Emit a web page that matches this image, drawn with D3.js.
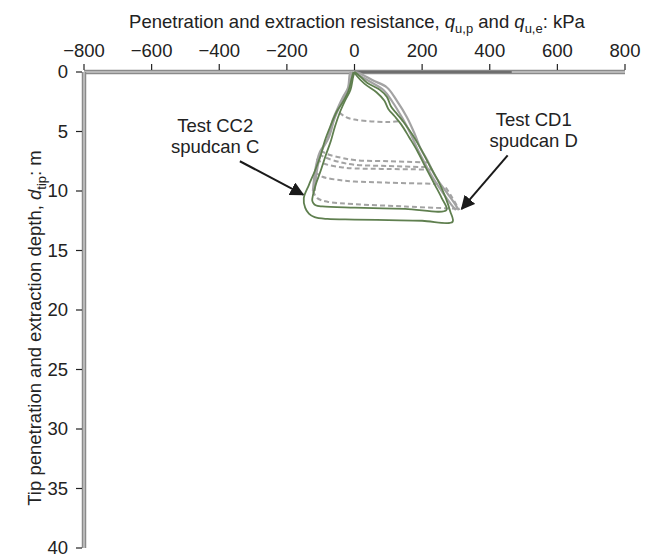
<!DOCTYPE html>
<html>
<head>
<meta charset="utf-8">
<script src="https://cdn.jsdelivr.net/npm/d3@7"></script>
<style>
  body { margin: 0; background: #fff; }
  text { font-family: "Liberation Sans", Arial, sans-serif; fill: #222; }
</style>
</head>
<body>
<div id="maViz"></div>
<script>
// ---- donnees (kPa, m) ----
const xTicks = [-800, -600, -400, -200, 0, 200, 400, 600, 800];
const yTicks = [0, 5, 10, 15, 20, 25, 30, 35, 40];

// Test CC2, spudcan C (vert) : penetration puis extraction
const cc2Outer = [[0,0],[10,0.2],[37,0.9],[75,1.5],[96,2.1],[108,2.9],[125,3.5],[145,4.2],[172,5.3],[195,6.4],[223,7.9],[250,9.3],[270,10.6],[283,11.7],[290,12.6],
  [200,12.5],[100,12.45],[0,12.4],[-80,12.35],[-118,12.2],[-135,11.9],[-146,11.4],[-150,10.6],
  [-135,9.5],[-117,8.3],[-100,7.0],[-88,5.8],[-72,4.6],[-52,3.3],[-34,2.5],[-18,1.6],[-8,0.5],[-3,0]];
const cc2Inner = [[0,0],[6,0.3],[30,1.0],[65,1.7],[88,2.4],[100,3.1],[118,3.7],[138,4.4],[162,5.5],[185,6.6],[212,8.1],[238,9.5],[258,10.6],[272,11.6],
  [150,11.5],[0,11.4],[-95,11.3],[-115,11.2],[-122,11.0],[-125,10.8],
  [-115,9.5],[-100,8.3],[-85,7.0],[-70,5.8],[-58,4.6],[-42,3.3],[-28,2.4],[-12,1.5],[-4,0.4],[0,0]];

// Test CD1, spudcan D (gris)
const cd1PenA = [[2,0],[15,0.1],[54,0.7],[96,1.3],[125,2.4],[155,3.8],[178,5.2],[195,6.4],[215,7.4],[240,8.8],[272,10.1],[295,11.0],[308,11.6]];
const cd1PenB = [[0,0],[10,0.2],[45,0.8],[85,1.5],[112,2.5],[142,3.9],[166,5.2],[185,6.4],[205,7.5],[230,8.8],[260,10.1],[285,11.1],[300,11.6]];
const cd1ExtA = [[-123,10.0],[-117,8.4],[-110,7.4],[-102,6.7],[-81,5.7],[-64,4.0],[-49,3.0],[-34,2.1],[-19,1.3],[-14,0.2],[-10,0]];
const cd1ExtB = [[-118,10.0],[-112,8.4],[-104,7.3],[-95,6.5],[-76,5.5],[-59,3.9],[-44,2.9],[-29,2.0],[-14,1.2],[-8,0.2],[-5,0]];
const cd1Cycles = [
  [[-45,3.4],[-25,3.8],[0,4.0],[50,4.15],[100,4.2],[140,4.1]],
  [[-100,6.6],[-80,6.9],[-40,7.2],[0,7.4],[100,7.5],[215,7.6]],
  [[-105,6.9],[-85,7.2],[-40,7.6],[0,7.8],[100,7.9],[222,8.0]],
  [[-112,7.3],[-90,7.7],[-40,8.0],[0,8.1],[100,8.15],[229,8.2]],
  [[-117,8.4],[-95,8.8],[-40,9.1],[0,9.2],[100,9.3],[250,9.4]],
  [[-123,10.0],[-110,10.6],[-80,10.9],[0,11.1],[150,11.3],[305,11.5]],
  [[270,9.7],[290,10.6],[310,11.6]]
];
const surfaceLine = [[0,0],[465,0]];

// annotations : deux lignes de texte + fleche de (q,d) vers (q,d)
const notes = [
  {l1: "Test CC2", l2: "spudcan C", q: -412, d: 5.0, from: [-339, 7.5], to: [-152, 10.3]},
  {l1: "Test CD1", l2: "spudcan D", q: 530, d: 4.5, from: [453, 7.0], to: [317, 11.5]}
];

// ---- dimensions ----
const W = 648, H = 558;
const svg = d3.select("#maViz").append("svg")
  .attr("width", W).attr("height", H);

const x = d3.scaleLinear().domain([-800, 800]).range([84, 625]);
const y = d3.scaleLinear().domain([0, 40]).range([72, 548]);

const green = "#5f7f4f";
const grey = "#a3a3a3";
const fs = "18.5px";

// ---- axes ----
// ligne epaisse grise
function thickLine(x1, y1, x2, y2) {
  svg.append("line").attr("x1", x1).attr("y1", y1).attr("x2", x2).attr("y2", y2)
    .attr("stroke", "#8a8a8a").attr("stroke-width", 4.5);
  svg.append("line").attr("x1", x1).attr("y1", y1).attr("x2", x2).attr("y2", y2)
    .attr("stroke", "#b8b8b8").attr("stroke-width", 2);
}
thickLine(x(-800), y(0), x(800), y(0));
thickLine(x(-800), y(0), x(-800), y(40));

// ticks haut
svg.append("g").selectAll("line").data(xTicks).join("line")
  .attr("x1", d => x(d)).attr("x2", d => x(d))
  .attr("y1", y(0) - 2).attr("y2", y(0) - 8)
  .attr("stroke", "#222").attr("stroke-width", 1.2);
svg.append("g").selectAll("text").data(xTicks).join("text")
  .attr("x", d => x(d)).attr("y", 57)
  .attr("text-anchor", "middle")
  .style("font-size", fs)
  .text(d => d < 0 ? "\u2212" + Math.abs(d) : d);

// ticks gauche
svg.append("g").selectAll("line").data(yTicks).join("line")
  .attr("x1", x(-800) - 2).attr("x2", x(-800) - 8)
  .attr("y1", d => y(d)).attr("y2", d => y(d))
  .attr("stroke", "#222").attr("stroke-width", 1.2);
svg.append("g").selectAll("text").data(yTicks).join("text")
  .attr("x", 68).attr("y", d => y(d)).attr("dy", "0.35em")
  .attr("text-anchor", "end")
  .style("font-size", fs)
  .text(d => d);

// titre axe x
const tx = svg.append("text").attr("x", 357).attr("y", 28)
  .attr("text-anchor", "middle").style("font-size", fs);
tx.append("tspan").text("Penetration and extraction resistance, ");
tx.append("tspan").style("font-style", "italic").text("q");
tx.append("tspan").attr("dy", 5).style("font-size", "13px").text("u,p");
tx.append("tspan").attr("dy", -5).text(" and ");
tx.append("tspan").style("font-style", "italic").text("q");
tx.append("tspan").attr("dy", 5).style("font-size", "13px").text("u,e");
tx.append("tspan").attr("dy", -5).text(": kPa");

// titre axe y
const ty = svg.append("text")
  .attr("transform", "translate(41,328) rotate(-90)")
  .attr("text-anchor", "middle").style("font-size", fs);
ty.append("tspan").text("Tip penetration and extraction depth, ");
ty.append("tspan").style("font-style", "italic").text("d");
ty.append("tspan").attr("dy", 5).style("font-size", "13px").text("tip");
ty.append("tspan").attr("dy", -5).text(": m");

// ---- courbes ----
const line = d3.line()
  .x(d => x(d[0])).y(d => y(d[1]))
  .curve(d3.curveCatmullRom.alpha(0.5));

svg.append("path").datum(surfaceLine).attr("d", line)
  .attr("fill", "none").attr("stroke", "#6e6e6e").attr("stroke-width", 2);

const Gris = svg.append("g").attr("fill", "none").attr("stroke", grey);
[cd1PenA, cd1PenB, cd1ExtA, cd1ExtB].forEach(c => {
  Gris.append("path").datum(c).attr("d", line).attr("stroke-width", 2.2);
});
Gris.selectAll(".cyc").data(cd1Cycles).join("path")
  .attr("class", "cyc")
  .attr("d", line)
  .attr("stroke-width", 2)
  .attr("stroke-dasharray", "5,3");

const Vert = svg.append("g").attr("fill", "none").attr("stroke", green);
[cc2Outer, cc2Inner].forEach(c => {
  Vert.append("path").datum(c).attr("d", line).attr("stroke-width", 1.8);
});

// ---- annotations ----
svg.append("defs").append("marker")
  .attr("id", "fleche").attr("viewBox", "0 0 10 10")
  .attr("refX", 9).attr("refY", 5)
  .attr("markerWidth", 7).attr("markerHeight", 7)
  .attr("orient", "auto")
  .append("path").attr("d", "M0,0 L10,5 L0,10 z").attr("fill", "#1a1a1a");

notes.forEach(n => {
  svg.append("line")
    .attr("x1", x(n.from[0])).attr("y1", y(n.from[1]))
    .attr("x2", x(n.to[0])).attr("y2", y(n.to[1]))
    .attr("stroke", "#1a1a1a").attr("stroke-width", 2)
    .attr("marker-end", "url(#fleche)");
  const t = svg.append("text").attr("text-anchor", "middle").style("font-size", fs);
  t.append("tspan").attr("x", x(n.q)).attr("y", y(n.d)).text(n.l1);
  t.append("tspan").attr("x", x(n.q)).attr("dy", 21).text(n.l2);
});
</script>
</body>
</html>
